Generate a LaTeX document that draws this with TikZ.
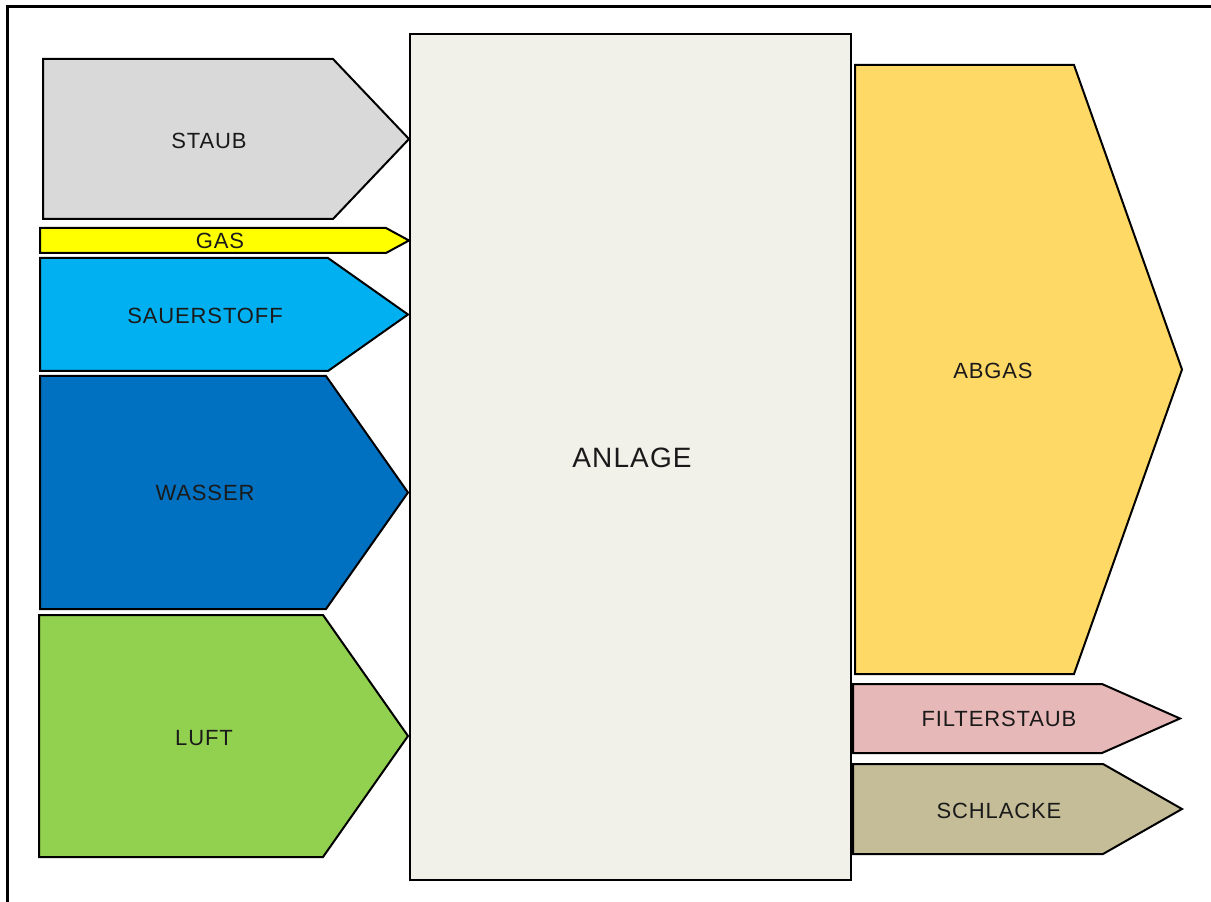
\documentclass[tikz,border=0pt]{standalone}
\usepackage{fontspec}
\setmainfont{Liberation Sans}[LetterSpace=4]
\definecolor{staubc}{HTML}{D9D9D9}
\definecolor{gasc}{HTML}{FFFF00}
\definecolor{sauerc}{HTML}{00B0F0}
\definecolor{wasserc}{HTML}{0070C0}
\definecolor{luftc}{HTML}{92D050}
\definecolor{anlagec}{HTML}{F1F0E9}
\definecolor{abgasc}{HTML}{FFD966}
\definecolor{filterc}{HTML}{E6B8B7}
\definecolor{schlackec}{HTML}{C4BD97}
\definecolor{labelc}{HTML}{1A1A1A}
% pentagon flow arrow: fill, left x, top y, bottom y, shoulder x, tip x
\newcommand\flowarrow[6]{%
  \draw[flowline, fill=#1] (#2,#3) -- (#5,#3) -- (#6,{(#3+#4)/2}) -- (#5,#4) -- (#2,#4) -- cycle;}
\begin{document}
\begin{tikzpicture}[x=0.75pt, y=-0.75pt,
  flowline/.style={draw=black, line width=1.5pt, line join=miter},
  flowlabel/.style={text=labelc, font=\fontsize{16.5}{19}\selectfont, inner sep=0pt},
  mainlabel/.style={text=labelc, font=\fontsize{21}{24}\selectfont, inner sep=0pt}]
\useasboundingbox (0,0) rectangle (1211,902);
\fill[white] (0,0) rectangle (1211,902);
% outer frame
\draw[line width=2.25pt] (7,905) -- (7,6.5) -- (1215,6.5);
% central plant
\draw[flowline, fill=anlagec] (410,34) rectangle (851,880);
\node[mainlabel] (anlage) at (632,458) {ANLAGE};
% inputs
\flowarrow{staubc}{43}{59}{219}{333}{409}
\node[flowlabel] (staub) at (209,141) {STAUB};
\flowarrow{gasc}{40}{228}{253}{386}{409}
\node[flowlabel] (gas) at (220,241) {GAS};
\flowarrow{sauerc}{40}{258}{371}{328}{408}
\node[flowlabel] (sauer) at (205,316) {SAUERSTOFF};
\flowarrow{wasserc}{40}{376}{609}{326}{408}
\node[flowlabel] (wasser) at (205,493) {WASSER};
\flowarrow{luftc}{39}{615}{857}{323}{408}
\node[flowlabel] (luft) at (204,738) {LUFT};
% outputs
\flowarrow{abgasc}{855}{65}{674}{1074}{1182}
\node[flowlabel] (abgas) at (993,371) {ABGAS};
\flowarrow{filterc}{853}{684}{753}{1102}{1180}
\node[flowlabel] (filter) at (999,719) {FILTERSTAUB};
\flowarrow{schlackec}{853}{764}{854}{1103}{1182}
\node[flowlabel] (schlacke) at (999,811) {SCHLACKE};
\end{tikzpicture}
\end{document}
